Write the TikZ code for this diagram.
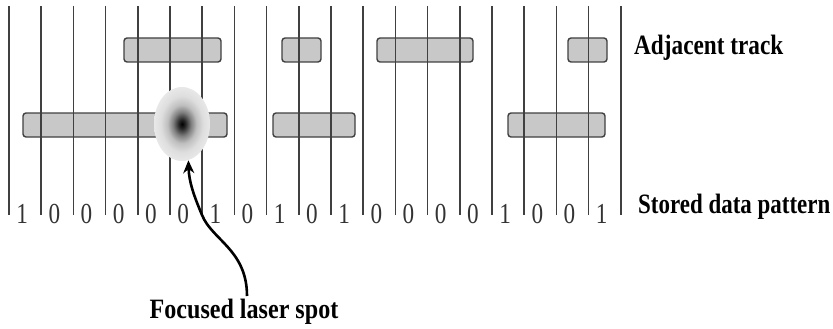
\documentclass[tikz,border=0pt]{standalone}
\usepackage{fontspec}
\setmainfont{Liberation Serif}
\usetikzlibrary{arrows.meta,shapes.geometric}
\pgfdeclareradialshading{laserspot}{\pgfpoint{0bp}{0bp}}{color(0bp)=(black); color(3bp)=(black!85); color(8bp)=(black!50); color(13bp)=(black!25); color(19bp)=(black!13); color(25bp)=(black!9); color(50bp)=(black!9)}
\definecolor{linegray}{HTML}{404040}
\definecolor{barfill}{HTML}{C8C8C8}
\begin{document}
\begin{tikzpicture}[x=1pt,y=-1pt,
  trackline/.style={draw=linegray,line width=1.5pt},
  bitbar/.style={draw=linegray,fill=barfill,line width=1.4pt,rounded corners=3pt},
  digit/.style={anchor=base,inner sep=0pt,text=black!80,font=\fontsize{29}{30}\selectfont},
  lbl/.style={inner sep=1pt,font=\fontsize{28}{30}\selectfont\bfseries},
  pointer/.style={draw=black,line width=2.6pt,-{Stealth[length=13pt,width=11pt]}}]
\useasboundingbox (0,0) rectangle (833,329);
% adjacent track bars
\draw[bitbar] (124,38) rectangle (221,62);
\draw[bitbar] (282,38) rectangle (321,62);
\draw[bitbar] (377,38) rectangle (473,62);
\draw[bitbar] (568,38) rectangle (607,62);
% data track bars
\draw[bitbar] (23,113) rectangle (227,137);
\draw[bitbar] (273,113) rectangle (355,137);
\draw[bitbar] (508,113) rectangle (605,137);
% vertical lines
\foreach \i in {0,...,19}{
  \draw[trackline] ({9+32.2*\i},6) -- ({9+32.2*\i},215);
}
% digits
\foreach \d [count=\i from 0] in {1,0,0,0,0,0,1,0,1,0,1,0,0,0,0,1,0,0,1}{
  \node[digit] (d\i) at ({9+32.2*\i+16.1-3},223) {\scalebox{0.8}[1]{\d}};
}
% laser spot
\node[ellipse,minimum width=56pt,minimum height=74pt,inner sep=0pt,shading=laserspot] (spot) at (182,124) {};
% labels
\node[lbl,anchor=base west] (adj) at (633,55) {\scalebox{0.83}[1]{Adjacent track}};
\node[lbl,anchor=base west] (stored) at (637,213) {\scalebox{0.82}[1]{Stored data pattern}};
\node[lbl,anchor=base] (focus) at (244,318) {\scalebox{0.86}[1]{Focused laser spot}};
% arrow
\draw[pointer] (247,296) .. controls (247,250) and (212,240) .. (202,215) .. controls (194,196) and (189,182) .. (spot.-80);
\end{tikzpicture}
\end{document}
